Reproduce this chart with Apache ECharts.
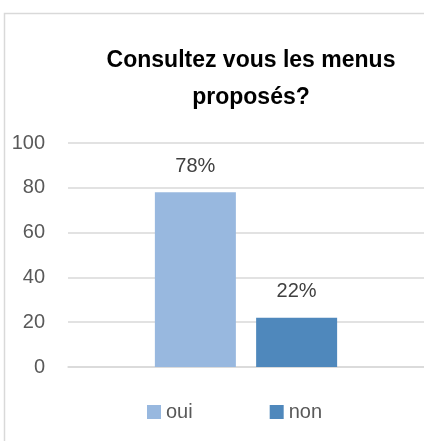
<!DOCTYPE html>
<html>
<head>
<meta charset="utf-8">
<script src="https://cdn.jsdelivr.net/npm/echarts@6/dist/echarts.min.js"></script>
<style>
  html, body { margin: 0; padding: 0; background: #fff; }
  #chart { width: 424px; height: 441px; }
</style>
</head>
<body>
<div id="chart"></div>
<script>
var categories = [''];
var seriesNames = ['oui', 'non'];
var ouiValues = [78];
var nonValues = [22];
var yTicks = { min: 0, max: 100, interval: 20 };

var font = 'Liberation Sans';

var option = {
    animation: false,
    graphic: [{
        type: 'rect',
        shape: { x: 4.5, y: 13.5, width: 600, height: 600 },
        style: { fill: 'none', stroke: '#d9d9d9', lineWidth: 1.5 },
        silent: true
    }],
    title: {
        text: 'Consultez vous les menus\nproposés?',
        left: 246,
        top: 37,
        textAlign: 'center',
        textStyle: {
            fontFamily: font,
            fontWeight: 'bold',
            fontSize: 23,
            lineHeight: 37,
            color: '#000'
        }
    },
    legend: {
        data: seriesNames,
        left: 142,
        top: 397,
        itemWidth: 14,
        itemHeight: 14,
        itemGap: 77,
        icon: 'rect',
        textStyle: { fontFamily: font, fontSize: 20, color: '#595959' }
    },
    grid: { left: 68, right: 0, top: 143, bottom: 74 },
    xAxis: {
        type: 'category',
        data: categories,
        axisLine: { lineStyle: { color: '#d9d9d9', width: 1.5 } },
        axisTick: { show: false },
        axisLabel: { show: false }
    },
    yAxis: {
        type: 'value',
        min: yTicks.min,
        max: yTicks.max,
        interval: yTicks.interval,
        axisLine: { show: false },
        axisTick: { show: false },
        axisLabel: { fontFamily: font, fontSize: 20, color: '#595959', margin: 23 },
        splitLine: { lineStyle: { color: '#d9d9d9', width: 1.5 } }
    },
    series: [{
        name: seriesNames[0],
        type: 'bar',
        data: ouiValues,
        barWidth: 81,
        barGap: '25%',
        itemStyle: { color: '#98b8df' },
        label: { show: true, position: 'top', distance: 16, formatter: '{c}%', fontFamily: font, fontSize: 20, color: '#404040' }
    }, {
        name: seriesNames[1],
        type: 'bar',
        data: nonValues,
        barWidth: 81,
        itemStyle: { color: '#4f88bc' },
        label: { show: true, position: 'top', distance: 16, formatter: '{c}%', fontFamily: font, fontSize: 20, color: '#404040' }
    }]
};

var myChart = echarts.init(document.getElementById('chart'));
myChart.setOption(option);
</script>
</body>
</html>
